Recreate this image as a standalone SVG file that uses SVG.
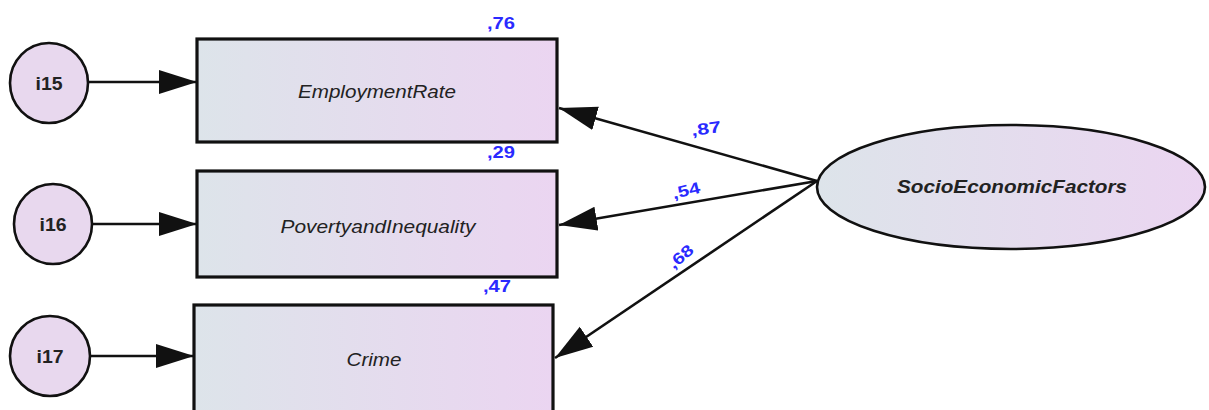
<svg xmlns="http://www.w3.org/2000/svg" width="1209" height="410" viewBox="0 0 1209 410">
  <style>
    .box { stroke: #111; stroke-width: 3.2; fill: url(#fillGrad); }
    .err { stroke: #111; stroke-width: 2.6; fill: #e8d8ee; }
    .lat { stroke: #111; stroke-width: 2.6; fill: url(#fillGrad); }
    .edge { stroke: #111; stroke-width: 2.6; fill: none; marker-end: url(#head); }
    .obs { font-family: "Liberation Sans", Arial, sans-serif; font-style: italic; font-size: 18px; fill: #222; text-anchor: middle; }
    .latt { font-family: "Liberation Sans", Arial, sans-serif; font-style: italic; font-weight: bold; font-size: 19px; fill: #222; text-anchor: middle; }
    .errt { font-family: "Liberation Sans", Arial, sans-serif; font-weight: bold; font-size: 18px; fill: #222; text-anchor: middle; }
    .est { font-family: "Liberation Sans", Arial, sans-serif; font-weight: bold; font-size: 16px; fill: #2a2aff; text-anchor: middle; }
  </style>
  <defs>
    <linearGradient id="fillGrad" x1="0" y1="0" x2="1" y2="0">
      <stop offset="0" stop-color="#dde4ea"/>
      <stop offset="1" stop-color="#ebd5f1"/>
    </linearGradient>
    <marker id="head" markerUnits="userSpaceOnUse" markerWidth="40" markerHeight="26" refX="38" refY="13" orient="auto">
      <path d="M0,1 L38,13 L0,25 z" fill="#111"/>
    </marker>
  </defs>

  <rect width="1209" height="410" fill="#ffffff"/>

  <g id="connectors">
    <line class="edge" x1="89" y1="82" x2="197" y2="82"/>
    <line class="edge" x1="92" y1="224" x2="197" y2="224"/>
    <line class="edge" x1="90" y1="356" x2="194" y2="356"/>
    <line class="edge" x1="817" y1="181" x2="559" y2="108"/>
    <line class="edge" x1="817" y1="181" x2="559" y2="225"/>
    <line class="edge" x1="817" y1="181" x2="555" y2="358"/>
  </g>

  <g id="estimates">
    <text class="est" x="706" y="134" textLength="30" lengthAdjust="spacingAndGlyphs" transform="rotate(-8 706 128)">,87</text>
    <text class="est" x="686" y="196" textLength="28" lengthAdjust="spacingAndGlyphs" transform="rotate(-14 686 190)">,54</text>
    <text class="est" x="681" y="262" textLength="28" lengthAdjust="spacingAndGlyphs" transform="rotate(-40 681 257)">,68</text>
  </g>

  <g id="EmploymentRate">
    <rect class="box" x="197" y="39" width="360" height="103"/>
    <text class="obs" x="377" y="98" textLength="158" lengthAdjust="spacingAndGlyphs">EmploymentRate</text>
    <text class="est" x="501" y="29" textLength="28" lengthAdjust="spacingAndGlyphs">,76</text>
  </g>
  <g id="PovertyandInequality">
    <rect class="box" x="197" y="171" width="360" height="106"/>
    <text class="obs" x="378" y="233" textLength="195" lengthAdjust="spacingAndGlyphs">PovertyandInequality</text>
    <text class="est" x="501" y="158" textLength="28" lengthAdjust="spacingAndGlyphs">,29</text>
  </g>
  <g id="Crime">
    <rect class="box" x="194" y="305" width="359" height="112"/>
    <text class="obs" x="374" y="366" textLength="55" lengthAdjust="spacingAndGlyphs">Crime</text>
    <text class="est" x="497" y="292" textLength="28" lengthAdjust="spacingAndGlyphs">,47</text>
  </g>

  <g id="i15">
    <ellipse class="err" cx="49" cy="83" rx="39" ry="40"/>
    <text class="errt" x="49" y="90" textLength="27" lengthAdjust="spacingAndGlyphs">i15</text>
  </g>
  <g id="i16">
    <ellipse class="err" cx="53" cy="224" rx="39" ry="40"/>
    <text class="errt" x="53" y="231" textLength="27" lengthAdjust="spacingAndGlyphs">i16</text>
  </g>
  <g id="i17">
    <ellipse class="err" cx="50" cy="356" rx="40" ry="40"/>
    <text class="errt" x="50" y="363" textLength="27" lengthAdjust="spacingAndGlyphs">i17</text>
  </g>

  <g id="SocioEconomicFactors">
    <ellipse class="lat" cx="1011" cy="187" rx="194" ry="62"/>
    <text class="latt" x="1012" y="193" textLength="230" lengthAdjust="spacingAndGlyphs">SocioEconomicFactors</text>
  </g>
</svg>
